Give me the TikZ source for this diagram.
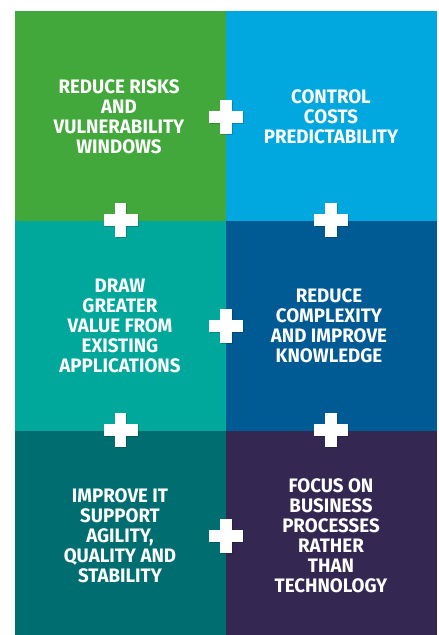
\documentclass[tikz,border=0pt]{standalone}
\usepackage{fontspec}
\setmainfont{Fira Sans}[FakeStretch=0.96]
\definecolor{cgreen}{RGB}{67,168,59}
\definecolor{clblue}{RGB}{0,168,223}
\definecolor{cteal}{RGB}{0,168,156}
\definecolor{cdblue}{RGB}{0,91,149}
\definecolor{cdteal}{RGB}{0,110,112}
\definecolor{cpurple}{RGB}{52,40,83}
\tikzset{
  cell/.style={inner sep=0pt, outer sep=0pt, minimum width=211pt, draw=none},
  txt/.style={text=white, align=center, inner sep=0pt, font=\bfseries\fontsize{19.5}{20}\selectfont},
  plussign/.pic={
    \fill[black,opacity=.18] (-16,-4.7) rectangle (18,6.7);
    \fill[black,opacity=.18] (-4.7,-16) rectangle (6.7,18);
    \fill[white] (-17,-5.7) rectangle (17,5.7);
    \fill[white] (-5.7,-17) rectangle (5.7,17);
  }
}
\begin{document}
\begin{tikzpicture}[x=1pt,y=-1pt]
\useasboundingbox (0,0) rectangle (439,635);
\fill[white] (0,0) rectangle (439,635);
% cells
\node[cell, fill=cgreen,  minimum height=210pt, anchor=north west] (c1) at (15,11) {};
\node[cell, fill=clblue,  minimum height=210pt, anchor=north west] (c2) at (226,11) {};
\node[cell, fill=cteal,   minimum height=210pt, anchor=north west] (c3) at (15,221) {};
\node[cell, fill=cdblue,  minimum height=210pt, anchor=north west] (c4) at (226,221) {};
\node[cell, fill=cdteal,  minimum height=204pt, anchor=north west] (c5) at (15,431) {};
\node[cell, fill=cpurple, minimum height=204pt, anchor=north west] (c6) at (226,431) {};
% texts
\node[txt] (t1) at (119,117) {REDUCE RISKS\\AND\\VULNERABILITY\\WINDOWS};
\node[txt] (t2) at (331,117) {CONTROL\\COSTS\\PREDICTABILITY};
\node[txt] (t3) at (120,326) {DRAW\\GREATER\\VALUE FROM\\EXISTING\\APPLICATIONS};
\node[txt] (t4) at (329,326) {REDUCE\\COMPLEXITY\\AND IMPROVE\\KNOWLEDGE};
\node[txt] (t5) at (120,536) {IMPROVE IT\\SUPPORT\\AGILITY,\\QUALITY AND\\STABILITY};
\node[txt] (t6) at (331,536) {FOCUS ON\\BUSINESS\\PROCESSES\\RATHER\\THAN\\TECHNOLOGY};
% plus signs
\pic at (226,117) {plussign};
\pic at (120.5,220) {plussign};
\pic at (331,220) {plussign};
\pic at (226,326) {plussign};
\pic at (120.5,430) {plussign};
\pic at (331,430) {plussign};
\pic at (226,536) {plussign};
\end{tikzpicture}
\end{document}
